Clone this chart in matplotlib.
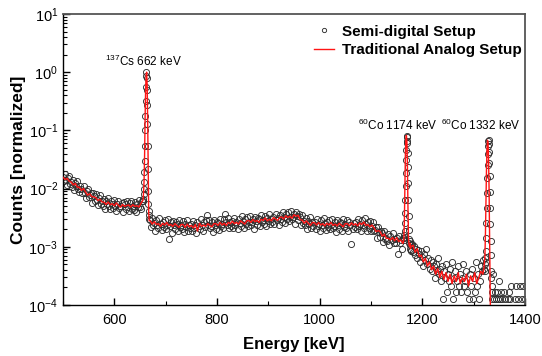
import numpy as np
import matplotlib
matplotlib.use('Agg')
import matplotlib.pyplot as plt
from matplotlib.ticker import LogLocator, MultipleLocator, NullFormatter

plt.rcParams['font.family'] = ['Liberation Sans', 'DejaVu Sans']
plt.rcParams['mathtext.fontset'] = 'custom'
plt.rcParams['mathtext.rm'] = 'Liberation Sans'
plt.rcParams['mathtext.it'] = 'Liberation Sans:italic'
plt.rcParams['mathtext.bf'] = 'Liberation Sans:bold'

# ---- Semi-digital setup: counts per channel (channel energies in keV) ----
semi_e_a = np.arange(500, 656, 2)
semi_a = [378, 313, 415, 328, 270, 365, 394, 283, 306, 253,
          334, 220, 296, 258, 323, 230, 203, 267, 237, 197,
          264, 201, 166, 214, 229, 169, 184, 200, 135, 196,
          176, 144, 189, 149, 122, 165, 181, 131, 142, 119,
          159, 106, 145, 128, 164, 120, 107, 143, 130, 110,
          151, 118, 99, 131, 144, 109, 121, 134, 92, 138,
          127, 106, 142, 114, 96, 132, 145, 107, 119, 101,
          137, 93, 130, 116, 151, 112, 104, 146]

semi_e_cs = np.arange(656, 668.5, 0.5)
semi_cs = [142, 154, 189, 236, 307, 449, 709, 1300, 2364, 4255,
           7565, 13002, 20094, 23640, 18439, 11820, 6383, 3073, 1300, 520,
           213, 130, 99, 83, 71]

semi_e_b = np.arange(670, 1164, 2)
semi_b = [68, 51, 74, 56, 61, 45, 68, 56, 50, 74,
          59, 46, 64, 52, 68, 48, 57, 71, 32, 54,
          62, 41, 66, 55, 48, 63, 59, 44, 67, 51,
          56, 48, 65, 42, 59, 52, 68, 45, 56, 49,
          58, 44, 65, 50, 55, 41, 63, 53, 47, 70,
          57, 44, 62, 51, 67, 83, 56, 69, 49, 53,
          62, 42, 67, 56, 48, 64, 61, 46, 71, 53,
          59, 50, 70, 85, 64, 57, 74, 49, 62, 54,
          65, 49, 74, 57, 62, 47, 71, 60, 53, 80,
          66, 50, 71, 58, 76, 54, 64, 81, 57, 62,
          72, 48, 77, 65, 56, 75, 71, 53, 82, 62,
          69, 59, 80, 53, 75, 66, 87, 58, 72, 64,
          77, 58, 87, 67, 74, 55, 84, 72, 64, 95,
          78, 61, 85, 70, 92, 66, 78, 98, 70, 76,
          88, 59, 95, 81, 68, 86, 76, 55, 82, 60,
          65, 55, 73, 48, 66, 59, 76, 50, 62, 53,
          64, 48, 71, 54, 59, 44, 67, 56, 50, 74,
          60, 46, 64, 52, 68, 48, 57, 71, 50, 54,
          63, 42, 67, 56, 48, 64, 60, 45, 70, 52,
          58, 50, 67, 44, 62, 55, 26, 47, 60, 52,
          63, 48, 70, 54, 59, 44, 67, 56, 50, 74,
          59, 45, 63, 50, 65, 45, 53, 63, 44, 46,
          52, 33, 51, 42, 35, 44, 40, 29, 44, 32,
          34, 30, 39, 25, 36, 31, 40, 27, 32, 28,
          33, 18, 36, 28, 31, 22, 33]

semi_e_co1 = np.arange(1164, 1178.5, 0.5)
semi_co1 = [31, 34, 38, 45, 60, 90, 150, 260, 440, 730,
            1100, 1560, 1890, 1800, 1420, 950, 560, 300, 150, 80,
            46, 32, 27, 30, 22, 25, 20, 26, 21]

semi_e_c = np.arange(1180, 1322, 2)
semi_c = [26, 19, 24, 17, 22, 15, 21, 18, 13, 20,
          16, 11, 18, 14, 22, 12, 15, 10, 14, 9,
          13, 11, 7, 12, 9, 15, 8, 10, 6, 11,
          3, 9, 7, 12, 4, 8, 6, 10, 5, 13,
          3, 7, 9, 4, 6, 11, 5, 8, 4, 7,
          12, 5, 6, 9, 4, 3, 8, 5, 10, 3,
          7, 4, 13, 5, 8, 3, 6, 11, 9, 14,
          10]

semi_e_co2 = np.arange(1322, 1336.5, 0.5)
semi_co2 = [12, 9, 15, 13, 20, 34, 60, 110, 200, 360,
            600, 930, 1300, 1580, 1610, 1380, 1020, 660, 390, 210,
            110, 58, 30, 17, 9, 7, 4, 5, 3]

semi_e_d = np.arange(1338, 1401, 2)
semi_d = [8, 3, 4, 3, 4, 3, 6, 3, 4, 3,
          2, 4, 3, 2, 3, 4, 3, 5, 2, 1,
          2, 3, 5, 2, 3, 1, 5, 2, 3, 5,
          1, 3]

# ---- Traditional analog setup ----
analog_e_a = np.arange(500, 660, 4)
analog_a = [371, 338, 355, 317, 306, 273, 290, 250, 249, 220,
            238, 206, 182, 193, 172, 170, 165, 147, 155, 139,
            138, 126, 139, 125, 130, 120, 134, 122, 113, 126,
            117, 121, 124, 114, 125, 117, 120, 114, 132, 150]

analog_e_cs = np.arange(657, 669)
analog_cs = [200, 330, 900, 4000, 12000, 21500, 23640, 14000, 3500, 500, 90, 66]

analog_e_b = np.arange(670, 1163, 4)
analog_b = [66, 58, 64, 57, 59, 53, 60, 56, 62, 55,
            57, 53, 59, 55, 51, 57, 57, 51, 58, 52,
            55, 50, 57, 44, 60, 53, 56, 53, 59, 55,
            52, 59, 59, 55, 62, 56, 60, 55, 62, 59,
            65, 59, 62, 58, 66, 62, 58, 66, 67, 62,
            70, 64, 67, 62, 70, 67, 74, 66, 70, 66,
            75, 71, 67, 75, 77, 71, 81, 75, 79, 73,
            84, 79, 82, 69, 68, 60, 66, 60, 55, 62,
            61, 56, 62, 56, 59, 54, 60, 56, 62, 55,
            58, 54, 60, 56, 52, 59, 59, 54, 61, 56,
            59, 54, 61, 57, 63, 55, 57, 52, 56, 50,
            43, 45, 43, 36, 39, 33, 33, 31, 34, 30,
            34, 29, 31, 27]

analog_e_co1 = np.arange(1163, 1179)
analog_co1 = [28, 32, 60, 250, 900, 1700, 1940, 1500, 600, 120, 35, 26, 24, 27, 22, 24]

analog_e_c = np.arange(1182, 1319, 4)
analog_c = [25, 19, 22, 16, 17, 13, 15, 11, 13, 9.5,
            11, 8, 10, 7, 9, 6.5, 8.5, 6, 8, 5.5,
            7.5, 6, 8.5, 5.5, 7, 6, 8, 5, 7.5, 6,
            8.5, 5.5, 7, 9, 8]

analog_e_co2 = np.arange(1320, 1335)
analog_co2 = [10, 13, 17, 40, 150, 500, 1100, 1600, 1450, 800, 250, 40, 6, 1, 0.5]

# join the pieces and normalize to the 662 keV photopeak
semi_e = np.concatenate([semi_e_a, semi_e_cs, semi_e_b, semi_e_co1, semi_e_c, semi_e_co2, semi_e_d])
semi = np.array(semi_a + semi_cs + semi_b + semi_co1 + semi_c + semi_co2 + semi_d, dtype=float)
semi = semi / semi.max()

analog_e = np.concatenate([analog_e_a, analog_e_cs, analog_e_b, analog_e_co1, analog_e_c, analog_e_co2])
analog = np.array(analog_a + analog_cs + analog_b + analog_co1 + analog_c + analog_co2, dtype=float)
analog = analog / analog.max()

fig = plt.figure(figsize=(5.42, 3.56), dpi=100)
ax = fig.add_axes([0.1162, 0.1433, 0.8524, 0.8174])

ax.plot(semi_e, semi, 'o', mfc='none', mec='#2e2e2e', ms=4.4, mew=0.65,
        label='Semi-digital Setup', zorder=2)
ax.plot(analog_e, analog, '-', color='#ff1414', lw=1.0,
        label='Traditional Analog Setup', zorder=3)

ax.set_yscale('log')
ax.set_xlim(500, 1400)
ax.set_ylim(1e-4, 10)

ax.xaxis.set_major_locator(MultipleLocator(200))
ax.xaxis.set_minor_locator(MultipleLocator(100))
ax.yaxis.set_major_locator(LogLocator(base=10, numticks=10))
ax.yaxis.set_minor_locator(LogLocator(base=10, subs=np.arange(2, 10), numticks=20))
ax.yaxis.set_minor_formatter(NullFormatter())
ax.tick_params(which='both', direction='in', top=False, right=False, labelsize=10.5)
ax.tick_params(axis='x', which='major', pad=6)
ax.tick_params(which='major', length=5, width=1)
ax.tick_params(which='minor', length=3, width=0.8)

for side in ['top', 'right']:
    ax.spines[side].set_color('#555555')
    ax.spines[side].set_linewidth(1.3)
for side in ['left', 'bottom']:
    ax.spines[side].set_color('black')
    ax.spines[side].set_linewidth(1.0)

ax.set_xlabel('Energy [keV]', fontweight='bold', fontsize=12, labelpad=7)
ax.set_ylabel('Counts [normalized]', fontweight='bold', fontsize=12.5, labelpad=2)

ax.text(657.5, 1.51, r'$^{137}$Cs 662 keV', ha='center', va='center', fontsize=8.5)
ax.text(1153, 0.124, r'$^{60}$Co 1174 keV', ha='center', va='center', fontsize=8.5)
ax.text(1313, 0.124, r'$^{60}$Co 1332 keV', ha='center', va='center', fontsize=8.5)

leg = ax.legend(loc='upper right', bbox_to_anchor=(1.022, 1.011), frameon=False,
                prop={'weight': 'bold', 'size': 11}, handlelength=1.3,
                handletextpad=0.5, labelspacing=0.3, markerscale=0.7)

fig.savefig('out.png', dpi=100)
